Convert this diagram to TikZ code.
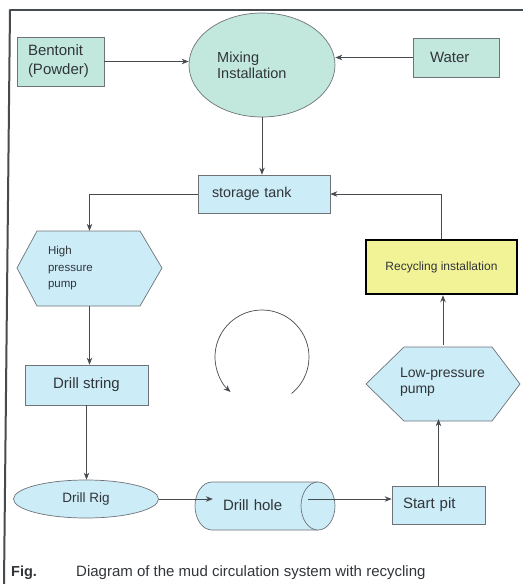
\documentclass[tikz,border=0pt]{standalone}
\usepackage{fontspec}
\setmainfont{Liberation Sans}
\usetikzlibrary{arrows.meta,backgrounds,calc,shapes.geometric}
\definecolor{mint}{RGB}{194,232,222}
\definecolor{sky}{RGB}{204,236,248}
\definecolor{ylw}{RGB}{242,242,150}
\definecolor{edge}{RGB}{110,115,120}
\definecolor{ink}{RGB}{70,75,80}
\begin{document}
\begin{tikzpicture}[x=1pt,y=-1pt,
  box/.style={draw=edge,line width=0.7pt,inner sep=0pt,text=ink!70!black},
  ghost/.style={inner sep=0pt,text=ink!70!black},
  txt/.style={inner sep=0pt,text=ink!70!black},
  shapeline/.style={draw=edge,line width=0.7pt},
  arr/.style={draw=ink,line width=0.7pt,-{Stealth[length=7pt,width=5.5pt]}},
  f15/.style={font=\fontsize{15}{19}\selectfont}]
\useasboundingbox (0,0) rectangle (523,584);

% frame
\draw[ink,line width=1.5pt] (10,10) -- (523,10);
\draw[ink,line width=2pt] (10,9.3) -- (4,584);

% top row
\node[box,fill=mint,minimum width=87pt,minimum height=49pt,text width=65pt,align=left,f15] (bent) at (60.5,61.5) {Bentonit\\(Powder)};
\node[box,fill=mint,ellipse,minimum width=146pt,minimum height=104pt] (mix) at (262,65) {};
\node[txt,anchor=west,align=left,font=\fontsize{14.5}{16}\selectfont] (mixt) at (217,65) {Mixing\\Installation};
\node[box,fill=mint,minimum width=86pt,minimum height=39pt,text width=52pt,align=left,f15] (water) at (456,57.5) {Water};

% storage tank
\node[box,fill=sky,minimum width=132pt,minimum height=38pt,text width=104pt,align=left,font=\fontsize{14.3}{17}\selectfont] (tank) at (264,194) {storage tank};

% high pressure pump
\node[ghost,minimum width=145pt,minimum height=75pt,text width=83pt,align=left,font=\fontsize{11.5}{16.5}\selectfont] (hpp) at (89.5,268.5) {High\\pressure\\pump};

% drill string
\node[box,fill=sky,minimum width=123pt,minimum height=40pt,f15] (ds) at (86.5,385) {Drill string};

% drill rig
\node[box,fill=sky,ellipse,minimum width=145pt,minimum height=38pt,font=\fontsize{13.5}{16}\selectfont] (rig) at (86,499) {Drill Rig};

% drill hole
\node[ghost,minimum width=140pt,minimum height=48pt,text width=84pt,align=left,f15] (hole) at (265,505) {Drill hole};

% start pit
\node[box,fill=sky,minimum width=93pt,minimum height=38pt,text width=71pt,align=left,f15] (start) at (438.5,505) {Start pit};

% low pressure pump
\node[ghost,minimum width=154pt,minimum height=74pt,text width=86pt,align=left,font=\fontsize{14}{16}\selectfont] (lpp) at (443,382) {Low-pressure\\pump};

% recycling installation
\node[draw=black,line width=2.5pt,fill=ylw,inner sep=0pt,minimum width=151pt,minimum height=54pt,font=\fontsize{12}{14}\selectfont,text=ink!70!black] (recyc) at (441.5,267) {Recycling installation};

% caption
\node[txt,anchor=west,font=\bfseries\fontsize{14.5}{17}\selectfont] (fig) at (11,573) {Fig.};
\node[txt,anchor=west,font=\fontsize{15}{17}\selectfont] (cap) at (76,573) {Diagram of the mud circulation system with recycling};

% shapes drawn behind
\begin{scope}[on background layer]
  \draw[shapeline,fill=sky] (17,268) -- (37,231) -- (140,231) -- (162,268) -- (140,306) -- (37,306) -- cycle;
  \draw[shapeline,fill=sky] (366,384) -- (404,347) -- (492,347) -- (520,384) -- (492,421) -- (404,421) -- cycle;
  \fill[sky] (318,482) -- (212,482) arc[start angle=-90,end angle=-270,x radius=17,y radius=24] -- (318,530) -- cycle;
  \draw[shapeline] (318,482) -- (212,482) arc[start angle=-90,end angle=-270,x radius=17,y radius=24] -- (318,530);
  \draw[shapeline,fill=sky] (318,506) ellipse[x radius=17,y radius=24];
\end{scope}

% connectors
\draw[arr] (bent.east) -- (bent.east -| mix.west);
\draw[arr] (water.west) -- (water.west -| mix.east);
\draw[arr] (mix.south) -- (mix.south |- tank.north);
\draw[arr] (tank.west) -| (hpp.north);
\draw[arr] (hpp.south) -- (hpp.south |- ds.north);
\draw[arr] (ds.south) -- (ds.south |- rig.north);
\draw[arr] (rig.east) -- ($(rig.east -| hole.west)+(18,0)$);
\draw[arr] ($(rig.east -| hole.east)+(-27,0)$) -- (rig.east -| start.west);
\draw[arr] (start.north) -- (start.north |- lpp.south);
\draw[arr] (lpp.north) -- (lpp.north |- recyc.south);
\draw[arr] (recyc.north) |- (tank.east);

% circulation arc
\coordinate (rot) at (262,357);
\draw[arr] (rot) ++(51:47) arc[start angle=51,end angle=-228,radius=47];
\end{tikzpicture}
\end{document}
